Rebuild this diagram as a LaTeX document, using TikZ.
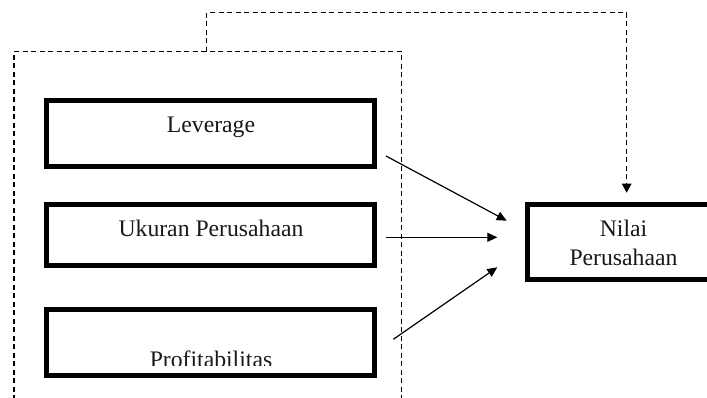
\documentclass[tikz,border=0pt]{standalone}
\usepackage{fontspec}
\setmainfont{Liberation Serif}
\usetikzlibrary{arrows.meta}
\tikzset{
  box/.style={draw=black, line width=5pt, fill=white, inner sep=0pt, rectangle},
  lbl/.style={anchor=base, inner sep=0pt, font=\fontsize{23.7}{29}\selectfont, text=black!90},
  conn/.style={line width=1.2pt, -{Triangle[length=10pt,width=9pt]}},
  dashline/.style={line width=1.2pt, dash pattern=on 5pt off 3.5pt}
}
\begin{document}
\begin{tikzpicture}[x=1pt,y=-1pt]
\useasboundingbox (0,0) rectangle (707,398);
\clip (0,0) rectangle (707,398);
% boxes
\node[box, minimum width=327.4pt, minimum height=66pt] (lev) at (210.5,133.8) {};
\node[box, minimum width=327.4pt, minimum height=61pt] (uk) at (210.5,235.3) {};
\node[box, minimum width=327.4pt, minimum height=66.6pt] (prof) at (210.5,342.5) {};
\node[box, minimum width=192pt, minimum height=75pt] (nilai) at (623.5,241.7) {};
% texts
\node[lbl] (levt) at (211,132.7) {Leverage};
\node[lbl] (ukt) at (211,236.7) {Ukuran Perusahaan};
\begin{scope}
\clip (50,300) rectangle (372,365);
\node[lbl] (proft) at (211,367.4) {Profitabilitas};
\end{scope}
\node[lbl] (nt1) at (623.5,236.2) {Nilai};
\node[lbl] (nt2) at (623.5,265.2) {Perusahaan};
% dashed frame
\coordinate (fbl) at (14,400);
\coordinate (ftl) at (14,51.7);
\coordinate (ftr) at (401.7,51.7);
\coordinate (fbr) at (401.7,400);
\draw[dashline] (fbl) -- (ftl) -- (ftr) -- (fbr);
% feedback dashed arrow
\coordinate (fb0) at (206.7,51.7);
\coordinate (fb1) at (206.7,12.7);
\coordinate (fb2) at (626.7,12.7);
\coordinate (fbend) at (626.7,192.7);
\draw[dashline, -{Triangle[length=9pt,width=9.5pt]}] (fb0) -- (fb1) -- (fb2) -- (fbend);
% arrows
\coordinate (a1s) at (386,156);
\coordinate (a1e) at (506.7,220.7);
\coordinate (a2s) at (386,237.3);
\coordinate (a2e) at (497.3,237.3);
\coordinate (a3s) at (393.3,339.3);
\coordinate (a3e) at (497.3,267.3);
\draw[conn] (a1s) -- (a1e);
\draw[conn] (a2s) -- (a2e);
\draw[conn] (a3s) -- (a3e);
\end{tikzpicture}
\end{document}
